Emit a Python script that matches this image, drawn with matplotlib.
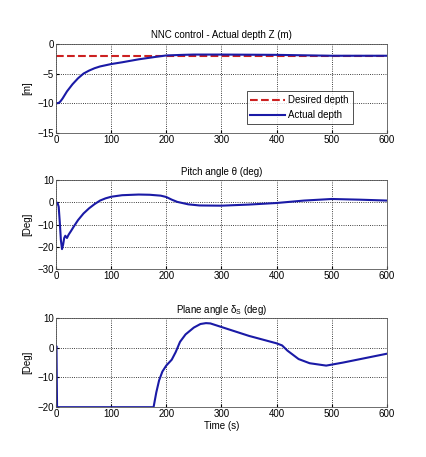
import numpy as np
import matplotlib
matplotlib.use('Agg')
import matplotlib.pyplot as plt

plt.rcParams['font.family'] = ['Liberation Sans', 'DejaVu Sans']
plt.rcParams['mathtext.fontset'] = 'custom'
plt.rcParams['mathtext.rm'] = 'Liberation Sans'
plt.rcParams['mathtext.it'] = 'Liberation Sans'

# depth (m)
t_depth = [0, 5, 8, 12, 20, 30, 40, 50, 60, 70, 80, 100, 120, 150, 180, 200, 230, 250, 300, 400, 500, 600]
z_actual = [-10, -9.95, -9.7, -9.2, -8.0, -6.8, -5.8, -5.0, -4.5, -4.1, -3.8, -3.4, -3.1, -2.6, -2.2, -1.95,
            -1.85, -1.8, -1.8, -1.85, -2.0, -2.0]
t_desired = [0, 600]
z_desired = [-2, -2]

# pitch angle (deg)
t_pitch = [0, 3, 5, 7, 9, 11, 13, 15, 17, 20, 23, 27, 32, 40, 50, 60, 70, 80, 90, 100, 120, 150, 170, 190,
           200, 210, 220, 240, 260, 300, 350, 400, 450, 500, 550, 600]
theta = [0, -0.3, -2, -9, -17, -21, -19, -16, -15, -16, -14.5, -13, -11, -8, -5, -2.7, -0.8, 0.8, 1.8, 2.5,
         3.2, 3.5, 3.4, 3.0, 2.4, 1.2, 0.2, -0.9, -1.4, -1.5, -1.0, -0.3, 0.8, 1.5, 1.2, 0.8]

# plane angle (deg)
t_plane = [0, 1, 2, 100, 177, 182, 187, 193, 200, 210, 217, 225, 235, 250, 262, 272, 280, 300, 350, 400,
           410, 420, 440, 460, 490, 520, 560, 600]
delta_s = [0, 0.5, -20, -20, -20, -15, -11, -8, -6, -4, -1.5, 2, 4.5, 6.8, 8.0, 8.3, 8.2, 7, 4, 1.5,
           0.8, -1, -3.8, -5.2, -6, -5, -3.5, -2]

blue = '#1a1aa6'
fs = 7

fig = plt.figure(figsize=(4.27, 4.57), dpi=100)
ax1 = fig.add_axes([0.131, 0.709, 0.775, 0.195])
ax2 = fig.add_axes([0.131, 0.411, 0.775, 0.195])
ax3 = fig.add_axes([0.131, 0.109, 0.775, 0.195])

ax1.plot(t_desired, z_desired, '--', color='#cc2020', lw=1.5, label='Desired depth')
ax1.plot(t_depth, z_actual, color=blue, lw=1.5, label='Actual depth')
ax1.set_ylim(-15, 0)
ax1.set_yticks([-15, -10, -5, 0])
ax1.set_title('NNC control - Actual depth Z (m)', fontsize=fs, pad=4)
ax1.set_ylabel('[m]', fontsize=fs)
leg = ax1.legend(loc='lower right', bbox_to_anchor=(0.897, 0.1), fontsize=fs, fancybox=False,
                 edgecolor='black', handlelength=3.6, borderaxespad=0, borderpad=0.4,
                 labelspacing=0.5, handletextpad=0.3)
leg.get_frame().set_linewidth(0.6)

ax2.plot(t_pitch, theta, color=blue, lw=1.5)
ax2.set_ylim(-30, 10)
ax2.set_yticks([-30, -20, -10, 0, 10])
ax2.set_title('Pitch angle \u03b8 (deg)', fontsize=fs, pad=4)
ax2.set_ylabel('[Deg]', fontsize=fs)

ax3.plot(t_plane, delta_s, color=blue, lw=1.5)
ax3.set_ylim(-20, 10)
ax3.set_yticks([-20, -10, 0, 10])
ax3.set_title('Plane angle $\\delta_S$ (deg)', fontsize=fs, pad=4)
ax3.set_ylabel('[Deg]', fontsize=fs)
ax3.set_xlabel('Time (s)', fontsize=fs, labelpad=1)

for ax in (ax1, ax2, ax3):
    ax.set_xlim(0, 600)
    ax.set_xticks([0, 100, 200, 300, 400, 500, 600])
    ax.grid(True, linestyle=':', color='black', linewidth=0.6)
    ax.tick_params(labelsize=fs, direction='in', length=2, pad=1.5)
    for s in ax.spines.values():
        s.set_linewidth(0.6)
        s.set_color('#555555')

fig.savefig('out.png', dpi=100)
